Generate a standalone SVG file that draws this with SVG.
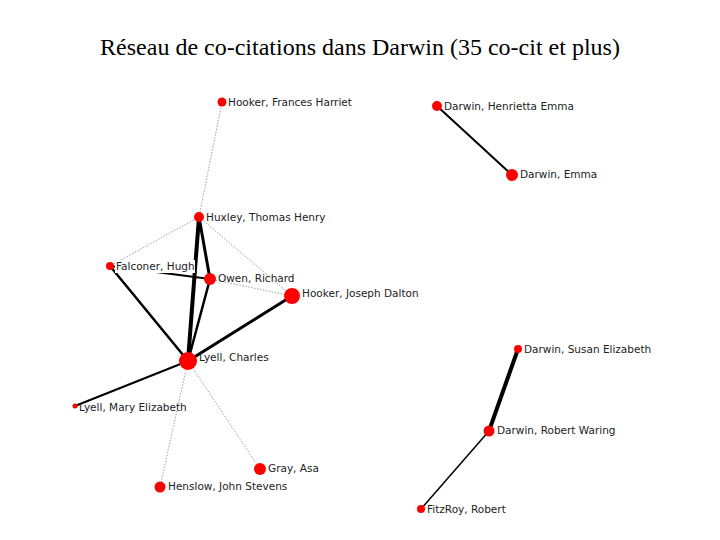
<svg xmlns="http://www.w3.org/2000/svg" width="720" height="540" viewBox="0 0 720 540">
<style>
.t{font-family:"Liberation Serif",serif;font-size:24px;fill:#000}
.l{font-family:"DejaVu Sans",sans-serif;font-size:10.5px;fill:#222}
.n{fill:#f00}
.d{stroke:#888;stroke-width:0.8;stroke-dasharray:1.5 1.5;fill:none}
.s{stroke:#000;fill:none;stroke-linecap:round}
</style>
<rect width="720" height="540" fill="#fff"/>
<text class="t" x="360" y="55" text-anchor="middle">Réseau de co-citations dans Darwin (35 co-cit et plus)</text>
<g id="connectors">
<line class="d" x1="222" y1="102" x2="199" y2="217"/>
<line class="d" x1="199" y1="217" x2="110" y2="266"/>
<line class="d" x1="199" y1="217" x2="292" y2="296"/>
<line class="d" x1="210" y1="279" x2="292" y2="296"/>
<line class="d" x1="188" y1="361" x2="160" y2="487"/>
<line class="d" x1="188" y1="361" x2="260" y2="469"/>
<line class="s" stroke-width="4" x1="199" y1="217" x2="188" y2="361"/>
<line class="s" stroke-width="3" x1="199" y1="217" x2="210" y2="279"/>
<line class="s" stroke-width="2.5" x1="210" y1="279" x2="188" y2="361"/>
<line class="s" stroke-width="2" x1="110" y1="266" x2="210" y2="279"/>
<line class="s" stroke-width="2.5" x1="110" y1="266" x2="188" y2="361"/>
<line class="s" stroke-width="3" x1="292" y1="296" x2="188" y2="361"/>
<line class="s" stroke-width="2" x1="188" y1="361" x2="75" y2="406"/>
<line class="s" stroke-width="2" x1="437" y1="106" x2="512" y2="175"/>
<line class="s" stroke-width="4" x1="518" y1="349" x2="489" y2="431"/>
<line class="s" stroke-width="1.5" x1="489" y1="431" x2="421" y2="509"/>
</g>
<g id="hooker-fh"><circle class="n" cx="222" cy="102" r="4.5"/><text class="l" x="228" y="106">Hooker, Frances Harriet</text></g>
<g id="huxley"><circle class="n" cx="199" cy="217" r="5"/><text class="l" x="206" y="221">Huxley, Thomas Henry</text></g>
<g id="falconer"><circle class="n" cx="110" cy="266" r="4"/><rect x="115" y="260" width="80" height="13" fill="#fff"/><text class="l" x="116" y="270">Falconer, Hugh</text></g>
<g id="owen"><circle class="n" cx="210" cy="279" r="6"/><text class="l" x="218" y="282">Owen, Richard</text></g>
<g id="hooker-jd"><circle class="n" cx="292" cy="296" r="8"/><text class="l" x="302" y="297">Hooker, Joseph Dalton</text></g>
<g id="lyell-c"><circle class="n" cx="188" cy="361" r="9"/><text class="l" x="199" y="361">Lyell, Charles</text></g>
<g id="lyell-me"><circle class="n" cx="75" cy="406" r="2.5"/><text class="l" x="79" y="411">Lyell, Mary Elizabeth</text></g>
<g id="henslow"><circle class="n" cx="160" cy="487" r="5.5"/><text class="l" x="168" y="490">Henslow, John Stevens</text></g>
<g id="gray"><circle class="n" cx="260" cy="469" r="6"/><text class="l" x="268" y="472">Gray, Asa</text></g>
<g id="darwin-he"><circle class="n" cx="437" cy="106" r="5"/><text class="l" x="444" y="110">Darwin, Henrietta Emma</text></g>
<g id="darwin-emma"><circle class="n" cx="512" cy="175" r="6"/><text class="l" x="520" y="178">Darwin, Emma</text></g>
<g id="darwin-se"><circle class="n" cx="518" cy="349" r="4"/><text class="l" x="524" y="353">Darwin, Susan Elizabeth</text></g>
<g id="darwin-rw"><circle class="n" cx="489" cy="431" r="5.5"/><text class="l" x="497" y="434">Darwin, Robert Waring</text></g>
<g id="fitzroy"><circle class="n" cx="421" cy="509" r="4"/><text class="l" x="427" y="513">FitzRoy, Robert</text></g>
</svg>
